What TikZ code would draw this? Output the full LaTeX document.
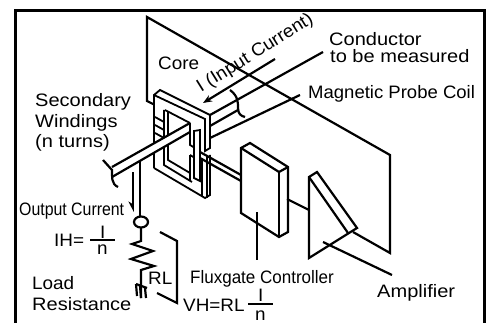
\documentclass[tikz,border=0pt]{standalone}
\usepackage{fontspec}
\setmainfont[FakeStretch=1.05]{Liberation Sans}
\usetikzlibrary{arrows.meta}

\tikzset{
    heavy/.style={line width=2.2pt, line join=miter},
    coreline/.style={line width=1.8pt, line join=miter},
    frameline/.style={line width=3pt},
    solid shape/.style={heavy, fill=white},
    labeltext/.style={font=\fontsize{18}{20}\selectfont, inner sep=0pt, anchor=base west},
    narrowtext/.style={labeltext, xscale=0.84, transform shape},
    widetext/.style={labeltext, xscale=1.06, transform shape}
}

\begin{document}
\begin{tikzpicture}[x=1pt, y=-1pt]

\useasboundingbox (0,0) rectangle (489,323);

% Frame
\draw[frameline] (15,323) -- (15,11) -- (484,11) -- (484,323);

% --- Sheet behind the core ---
\draw[heavy] (155,105) -- (147,101) -- (147,17) -- (390,155) -- (390,253) -- (353,232);

% --- Conductor ---
\draw[heavy] (210,115) -- (323,52);
\draw[heavy] (210,126) -- (238,110);
\draw[heavy] (210,138) -- (300,95);
\draw[heavy] (230,90) .. controls (238,96) and (238,102) .. (238,108) .. controls (238,114) and (241,116) .. (245,117);
\draw[heavy, -{Stealth[length=9pt, width=7pt]}] (275,59) -- (203,103);

% --- Core ---
\path[fill=white] (154,95) -- (160,90) -- (210,115) -- (210,195) -- (205,198) -- (154,168) -- cycle;
\draw[coreline] (154,168) -- (154,95) -- (160,90) -- (210,115) -- (210,148) -- (205,151) -- (205,119) -- (154,95);
\draw[coreline] (165,110) -- (190,123);
\draw[coreline] (155,117) -- (164,122);
\draw[coreline] (155,125) -- (164,130);
\draw[coreline] (155,133) -- (164,138);
\draw[coreline] (164,110) -- (164,165) -- (192,182);
\draw[coreline] (168,112) -- (168,160) -- (190,173);
\draw[coreline] (154,168) -- (205,198) -- (210,195) -- (210,155);
\draw[coreline] (202,158) -- (202,197);
\draw[coreline] (207,155) -- (207,198);

% --- Secondary winding bar ---
\path[fill=white] (112,167) -- (190,123) -- (190,132) -- (112,177) -- cycle;
\draw[heavy] (112,167) -- (190,123);
\draw[heavy] (112,177) -- (190,132);
\draw[heavy] (103,160) -- (112,170) .. controls (112,176) and (111,184) .. (118,187);

% --- Probe coil ---
\draw[coreline] (190,123) -- (190,145) -- (195,148);
\draw[coreline] (190,155) -- (190,180);
\draw[coreline] (190,155) -- (195,158);
\draw[coreline, fill=white] (194,131) -- (200,130) -- (200,181) -- (194,178) -- cycle;

% --- Bar to the controller ---
\draw[heavy] (200,152) -- (241,175);
\draw[heavy] (200,158) -- (241,181);

% --- Fluxgate controller ---
\draw[solid shape] (241,148) -- (250,143) -- (288,167) -- (288,232) -- (279,237) -- (241,213) -- cycle;
\draw[heavy] (241,148) -- (279,172) -- (288,167);
\draw[heavy] (279,172) -- (279,237);
\draw[heavy] (257,212) -- (257,260);
\draw[heavy] (287,199) -- (309,210);

% --- Amplifier ---
\draw[solid shape] (309,177) -- (317,172) -- (357,228) -- (309,258) -- cycle;
\draw[heavy] (309,177) -- (348,233);
\draw[heavy] (323,242) -- (392,275);

% --- Output wire, resistor and ground ---
\draw[heavy] (140,161) -- (140,217);
\draw[heavy, -{Stealth[length=9pt, width=9pt, harpoon, swap]}] (133,172) -- (133,212);
\draw[heavy] (141,222) ellipse (7 and 5.5);
\draw[heavy] (141,228) -- (141,241) -- (132,244) -- (153,251) -- (131,259) -- (154,266) -- (141,270) -- (141,298);
\draw[heavy] (136,284) -- (147,288);
\draw[heavy] (136,284) -- (137,296);
\draw[heavy] (140,286) -- (141,298);
\draw[heavy] (145,288) -- (146,298);
\draw[heavy] (160,232) -- (177,241) -- (177,303) -- (157,293);

% --- Labels ---
\node[labeltext] (core) at (158,70) {Core};
\node[widetext] (conductor) at (329,46) {Conductor};
\node[widetext] (measured) at (330,63) {to be measured};
\node[labeltext, xscale=0.98, transform shape] (probe) at (308,99) {Magnetic Probe Coil};
\node[labeltext, rotate=32] (input) at (201,93) {I (Input Current)};
\node[widetext] (secondary) at (35,107) {Secondary};
\node[widetext] (windings) at (35,128) {Windings};
\node[widetext] (turns) at (35,148) {(n turns)};
\node[narrowtext] (output) at (19,215) {Output Current};
\node[labeltext] (ih) at (54,246) {IH=};
\node[labeltext] (ihtop) at (100,238) {I};
\node[labeltext] (ihbottom) at (97,254) {n};
\draw[line width=1.2pt] (90,240) -- (115,240);
\node[labeltext] (load) at (32,289) {Load};
\node[widetext] (resistance) at (32,310) {Resistance};
\node[labeltext] (rl) at (148,284) {RL};
\node[labeltext, xscale=0.9, transform shape] (controller) at (190,283) {Fluxgate Controller};
\node[labeltext] (vh) at (183,311) {VH=RL};
\node[labeltext] (vhtop) at (258,301) {I};
\node[labeltext] (vhbottom) at (255,320) {n};
\draw[line width=1.2pt] (248,304) -- (273,304);
\node[widetext] (amplifier) at (377,297) {Amplifier};

\end{tikzpicture}
\end{document}
